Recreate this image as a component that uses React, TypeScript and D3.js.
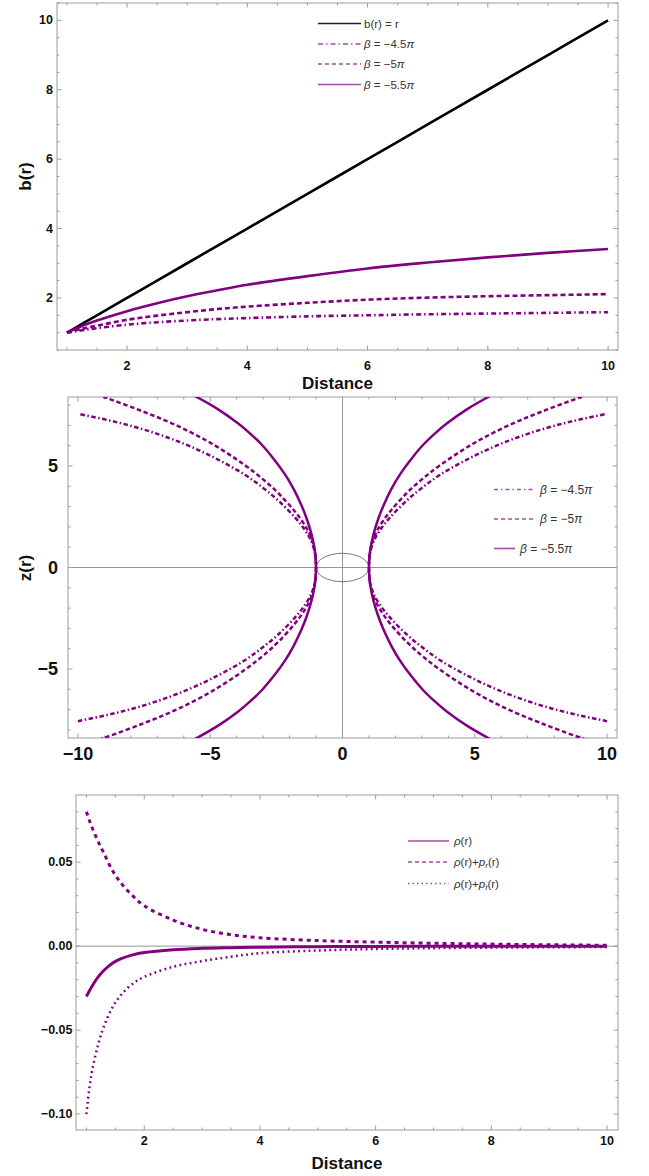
import React from "react";
import * as d3 from "d3";

// ---------------- Panel 1: shape function b(r) ----------------
const shapeRadius = [1, 1.25, 1.5, 2, 2.5, 3, 3.5, 4, 5, 6, 7, 8, 9, 10];
const shapeIdentity = [1, 1.25, 1.5, 2, 2.5, 3, 3.5, 4, 5, 6, 7, 8, 9, 10];
const shapeBeta45 = [1, 1.07, 1.13, 1.23, 1.3, 1.35, 1.39, 1.42, 1.47, 1.5, 1.53, 1.55, 1.57, 1.59];
const shapeBeta5 = [1, 1.11, 1.2, 1.37, 1.49, 1.59, 1.68, 1.75, 1.86, 1.95, 2.01, 2.05, 2.08, 2.11];
const shapeBeta55 = [1, 1.19, 1.35, 1.62, 1.85, 2.05, 2.22, 2.38, 2.63, 2.85, 3.02, 3.17, 3.3, 3.41];
const p1XTicks = [2, 4, 6, 8, 10];
const p1YTicks = [2, 4, 6, 8, 10];
const p1XTickLabels = ["2", "4", "6", "8", "10"];
const p1YTickLabels = ["2", "4", "6", "8", "10"];

// ---------------- Panel 2: embedding z(r) ----------------
const embedRadius45 = [1, 1.02, 1.06, 1.17, 1.4, 1.8, 2.43, 3.0, 3.69, 4.95, 6.21, 7.47, 8.73, 10];
const embedZ45 = [0, 0.51, 0.83, 1.27, 1.81, 2.47, 3.3, 3.92, 4.57, 5.48, 6.21, 6.78, 7.22, 7.57];
const embedRadius5 = [1, 1.02, 1.06, 1.17, 1.4, 1.8, 2.43, 3.0, 3.69, 4.95, 6.21, 7.47, 8.98, 10];
const embedZ5 = [0, 0.53, 0.88, 1.42, 2.03, 2.76, 3.67, 4.34, 5.04, 6.11, 6.96, 7.65, 8.38, 8.82];
const embedRadius55 = [1, 1.02, 1.06, 1.17, 1.35, 1.55, 1.85, 2.18, 2.6, 3.06, 3.5, 3.94, 4.7, 5.58, 6.2];
const embedZ55 = [0, 0.55, 0.96, 1.63, 2.39, 3.06, 3.87, 4.6, 5.35, 6.06, 6.61, 7.09, 7.79, 8.45, 8.86];
const throatRadius = 1;
const throatTilt = 0.7;
const p2XTicks = [-10, -5, 0, 5, 10];
const p2YTicks = [-5, 0, 5];
const p2XTickLabels = ["\u221210", "\u22125", "0", "5", "10"];
const p2YTickLabels = ["\u22125", "0", "5"];

// ---------------- Panel 3: energy conditions ----------------
const ecRadius = [1, 1.05, 1.1, 1.2, 1.3, 1.45, 1.6, 1.8, 2, 2.5, 3, 3.5, 4, 5, 6, 7, 8, 9, 10];
const ecRho = [-0.03, -0.0267, -0.0237, -0.0185, -0.0145, -0.0102, -0.0075, -0.0052, -0.0038, -0.0021, -0.0013, -0.0009, -0.0006, -0.0003, -0.0002, -0.0001, -0.0001, -0.0001, -0.0001];
const ecRhoPr = [0.08, 0.075, 0.0705, 0.0625, 0.0555, 0.045, 0.0375, 0.03, 0.024, 0.0155, 0.01, 0.0068, 0.005, 0.0033, 0.0024, 0.0017, 0.0012, 0.0008, 0.0005];
const ecRhoPt = [-0.1, -0.085, -0.074, -0.059, -0.048, -0.0365, -0.029, -0.0224, -0.0183, -0.0123, -0.0089, -0.0063, -0.0042, -0.0026, -0.0017, -0.0012, -0.0009, -0.0007, -0.0005];
const p3XTicks = [2, 4, 6, 8, 10];
const p3YTicks = [-0.1, -0.05, 0, 0.05];
const p3XTickLabels = ["2", "4", "6", "8", "10"];
const p3YTickLabels = ["\u22120.10", "\u22120.05", "0.00", "0.05"];

const PURPLE = "#800080";
const LEGEND_PURPLE = "#a24ea2";
const FRAME = "#9c9c9c";
const FONT = "'Liberation Sans', Arial, sans-serif";

type Scale = d3.ScaleLinear<number, number>;

function minorTicks(start: number, end: number, step: number, majors: number[]) {
  const out: number[] = [];
  const n = Math.round((end - start) / step);
  for (let i = 0; i <= n; i++) {
    const v = +(start + i * step).toFixed(6);
    if (!majors.some((m) => Math.abs(m - v) < 1e-9)) out.push(v);
  }
  return out;
}

function FrameAxes(props: {
  x: Scale; y: Scale;
  xMajor: number[]; xMinor: number[]; yMajor: number[]; yMinor: number[];
  xLabels: string[]; yLabels: string[];
  fontSize: number; xLabelBaseline: number; yLabelRight: number;
}) {
  const { x, y, xMajor, xMinor, yMajor, yMinor, xLabels, yLabels, fontSize, xLabelBaseline, yLabelRight } = props;
  const [xl, xr] = x.range();
  const [yb, yt] = y.range();
  const MAJ = 4.5, MIN = 2.5;
  const ticks: React.ReactNode[] = [];
  const addX = (v: number, len: number, k: string) => {
    const px = x(v);
    ticks.push(<line key={"xb" + k} x1={px} x2={px} y1={yb} y2={yb - len} />);
    ticks.push(<line key={"xt" + k} x1={px} x2={px} y1={yt} y2={yt + len} />);
  };
  const addY = (v: number, len: number, k: string) => {
    const py = y(v);
    ticks.push(<line key={"yl" + k} x1={xl} x2={xl + len} y1={py} y2={py} />);
    ticks.push(<line key={"yr" + k} x1={xr} x2={xr - len} y1={py} y2={py} />);
  };
  xMajor.forEach((v, i) => addX(v, MAJ, "M" + i));
  xMinor.forEach((v, i) => addX(v, MIN, "m" + i));
  yMajor.forEach((v, i) => addY(v, MAJ, "M" + i));
  yMinor.forEach((v, i) => addY(v, MIN, "m" + i));
  return (
    <g>
      <rect x={xl} y={yt} width={xr - xl} height={yb - yt} fill="none" stroke={FRAME} strokeWidth={1} />
      <g stroke={FRAME} strokeWidth={1}>{ticks}</g>
      <g fontFamily={FONT} fontWeight="bold" fontSize={fontSize} fill="#111">
        {xMajor.map((v, i) => (
          <text key={"xl" + i} x={x(v)} y={xLabelBaseline} textAnchor="middle">{xLabels[i]}</text>
        ))}
        {yMajor.map((v, i) => (
          <text key={"yl" + i} x={yLabelRight} y={y(v)} textAnchor="end" dominantBaseline="central">{yLabels[i]}</text>
        ))}
      </g>
    </g>
  );
}

function Panel1() {
  const x = d3.scaleLinear().domain([0.835, 10.165]).range([57, 618]);
  const y = d3.scaleLinear().domain([0.5, 10.5]).range([350, 3]);
  const line = (vals: number[]) =>
    d3.line<number>().x((_, i) => x(shapeRadius[i])).y((v) => y(v)).curve(d3.curveCatmullRom.alpha(0.5))(vals) || "";
  const legend = [
    { label: <tspan>b(r) = r</tspan>, color: "#222", dash: "" },
    { label: <><tspan fontStyle="italic">β</tspan> = −4.5<tspan fontStyle="italic">π</tspan></>, color: LEGEND_PURPLE, dash: "5,3,1.5,3" },
    { label: <><tspan fontStyle="italic">β</tspan> = −5<tspan fontStyle="italic">π</tspan></>, color: LEGEND_PURPLE, dash: "4,3" },
    { label: <><tspan fontStyle="italic">β</tspan> = −5.5<tspan fontStyle="italic">π</tspan></>, color: LEGEND_PURPLE, dash: "" },
  ];
  const rows = [23.5, 44, 64, 84.5];
  return (
    <g>
      <FrameAxes x={x} y={y} xMajor={p1XTicks} xMinor={minorTicks(1, 10, 0.5, p1XTicks)}
        yMajor={p1YTicks} yMinor={minorTicks(0.5, 10.5, 0.5, p1YTicks)}
        xLabels={p1XTickLabels} yLabels={p1YTickLabels} fontSize={12.5} xLabelBaseline={369.5} yLabelRight={53} />
      <path d={line(shapeIdentity)} fill="none" stroke="#000" strokeWidth={2.6} />
      <path d={line(shapeBeta55)} fill="none" stroke={PURPLE} strokeWidth={2.6} />
      <path d={line(shapeBeta5)} fill="none" stroke={PURPLE} strokeWidth={2.6} strokeDasharray="5,3" />
      <path d={line(shapeBeta45)} fill="none" stroke={PURPLE} strokeWidth={2.6} strokeDasharray="5,3,1.5,3" />
      {legend.map((l, i) => (
        <g key={i}>
          <line x1={318} x2={361} y1={rows[i]} y2={rows[i]} stroke={l.color} strokeWidth={1.6} strokeDasharray={l.dash} />
          <text x={364} y={rows[i]} dominantBaseline="central" fontFamily={FONT} fontSize={11.5} fill="#333">{l.label}</text>
        </g>
      ))}
      <text x={337.5} y={389} textAnchor="middle" fontFamily={FONT} fontWeight="bold" fontSize={17} fill="#111">Distance</text>
      <text transform={`translate(31,176.5) rotate(-90)`} textAnchor="middle" fontFamily={FONT} fontWeight="bold" fontSize={17} fill="#111">b(r)</text>
    </g>
  );
}

function Panel2() {
  const x = d3.scaleLinear().domain([-10.375, 10.375]).range([68, 617]);
  const y = d3.scaleLinear().domain([-8.4, 8.4]).range([738, 397]);
  const gen = d3.line<[number, number]>().x((d) => x(d[0])).y((d) => y(d[1])).curve(d3.curveCatmullRom.alpha(0.5));
  const branch = (rs: number[], zs: number[], sign: number) => {
    const pts: [number, number][] = [];
    for (let i = rs.length - 1; i >= 1; i--) pts.push([sign * rs[i], -zs[i]]);
    for (let i = 0; i < rs.length; i++) pts.push([sign * rs[i], zs[i]]);
    return gen(pts) || "";
  };
  const series = [
    { r: embedRadius45, z: embedZ45, dash: "4.5,2.5,1.5,2.5" },
    { r: embedRadius5, z: embedZ5, dash: "4.5,2.7" },
    { r: embedRadius55, z: embedZ55, dash: "" },
  ];
  const legend = [
    { label: "−4.5", dash: "4,3,1.5,3", x1: 494, x2: 533, tx: 540, y: 489.5 },
    { label: "−5", dash: "4,3", x1: 494, x2: 533, tx: 540, y: 519 },
    { label: "−5.5", dash: "", x1: 494, x2: 515, tx: 520, y: 548.5 },
  ];
  return (
    <g>
      <defs>
        <clipPath id="clip2"><rect x={68} y={397} width={549} height={341} /></clipPath>
      </defs>
      <line x1={68} x2={617} y1={y(0)} y2={y(0)} stroke="#8a8a8a" strokeWidth={0.9} />
      <line x1={x(0)} x2={x(0)} y1={397} y2={738} stroke="#8a8a8a" strokeWidth={0.9} />
      <ellipse cx={x(0)} cy={y(0)} rx={x(throatRadius) - x(0)} ry={y(0) - y(throatTilt)} fill="none" stroke="#6a6a6a" strokeWidth={0.9} />
      <FrameAxes x={x} y={y} xMajor={p2XTicks} xMinor={minorTicks(-10, 10, 1, p2XTicks)}
        yMajor={p2YTicks} yMinor={minorTicks(-8, 8, 1, p2YTicks)}
        xLabels={p2XTickLabels} yLabels={p2YTickLabels} fontSize={18} xLabelBaseline={759.5} yLabelRight={58} />
      <g clipPath="url(#clip2)">
        {series.map((s, i) => (
          <g key={i}>
            <path d={branch(s.r, s.z, 1)} fill="none" stroke={PURPLE} strokeWidth={2.5} strokeDasharray={s.dash} />
            <path d={branch(s.r, s.z, -1)} fill="none" stroke={PURPLE} strokeWidth={2.5} strokeDasharray={s.dash} />
          </g>
        ))}
      </g>
      {legend.map((l, i) => (
        <g key={i}>
          <line x1={l.x1} x2={l.x2} y1={l.y} y2={l.y} stroke={LEGEND_PURPLE} strokeWidth={1.6} strokeDasharray={l.dash} />
          <text x={l.tx} y={l.y} dominantBaseline="central" fontFamily={FONT} fontSize={12} fill="#333">
            <tspan fontStyle="italic">β</tspan> = {l.label}<tspan fontStyle="italic">π</tspan>
          </text>
        </g>
      ))}
      <text transform={`translate(31,568) rotate(-90)`} textAnchor="middle" fontFamily={FONT} fontWeight="bold" fontSize={17} fill="#111">z(r)</text>
    </g>
  );
}

function Panel3() {
  const x = d3.scaleLinear().domain([0.82, 10.19]).range([76, 618]);
  const y = d3.scaleLinear().domain([-0.1095, 0.09]).range([1130, 795]);
  const line = (vals: number[]) =>
    d3.line<number>().x((_, i) => x(ecRadius[i])).y((v) => y(v)).curve(d3.curveCatmullRom.alpha(0.5))(vals) || "";
  const rows = [841, 862, 883.5];
  const legendDash = ["", "4,3", "1.5,3"];
  const legendLabels = [
    <><tspan fontStyle="italic">ρ</tspan>(r)</>,
    <><tspan fontStyle="italic">ρ</tspan>(r)+<tspan fontStyle="italic">p</tspan><tspan fontStyle="italic" fontSize={8} dy={3}>r</tspan><tspan dy={-3}>(r)</tspan></>,
    <><tspan fontStyle="italic">ρ</tspan>(r)+<tspan fontStyle="italic">p</tspan><tspan fontStyle="italic" fontSize={8} dy={3}>t</tspan><tspan dy={-3}>(r)</tspan></>,
  ];
  return (
    <g>
      <line x1={76} x2={618} y1={y(0)} y2={y(0)} stroke="#8a8a8a" strokeWidth={0.9} />
      <FrameAxes x={x} y={y} xMajor={p3XTicks} xMinor={minorTicks(1, 10, 0.5, p3XTicks)}
        yMajor={p3YTicks} yMinor={minorTicks(-0.1, 0.08, 0.01, p3YTicks)}
        xLabels={p3XTickLabels} yLabels={p3YTickLabels} fontSize={12.5} xLabelBaseline={1144.5} yLabelRight={72.5} />
      <path d={line(ecRho)} fill="none" stroke={PURPLE} strokeWidth={3} />
      <path d={line(ecRhoPr)} fill="none" stroke={PURPLE} strokeWidth={3} strokeDasharray="4,4" />
      <path d={line(ecRhoPt)} fill="none" stroke={PURPLE} strokeWidth={2.5} strokeDasharray="1.8,3.4" />
      {rows.map((ry, i) => (
        <g key={i}>
          <line x1={408} x2={449} y1={ry} y2={ry} stroke={LEGEND_PURPLE} strokeWidth={1.6} strokeDasharray={legendDash[i]} />
          <text x={454} y={ry} dominantBaseline="central" fontFamily={FONT} fontSize={11.5} fill="#333">{legendLabels[i]}</text>
        </g>
      ))}
      <text x={347} y={1169} textAnchor="middle" fontFamily={FONT} fontWeight="bold" fontSize={17} fill="#111">Distance</text>
    </g>
  );
}

export default function App() {
  return (
    <svg width={649} height={1176} viewBox="0 0 649 1176"
      style={{ position: "absolute", left: 0, top: 0, background: "#fff" }}>
      <rect x={0} y={0} width={649} height={1176} fill="#fff" />
      <Panel1 />
      <Panel2 />
      <Panel3 />
    </svg>
  );
}
